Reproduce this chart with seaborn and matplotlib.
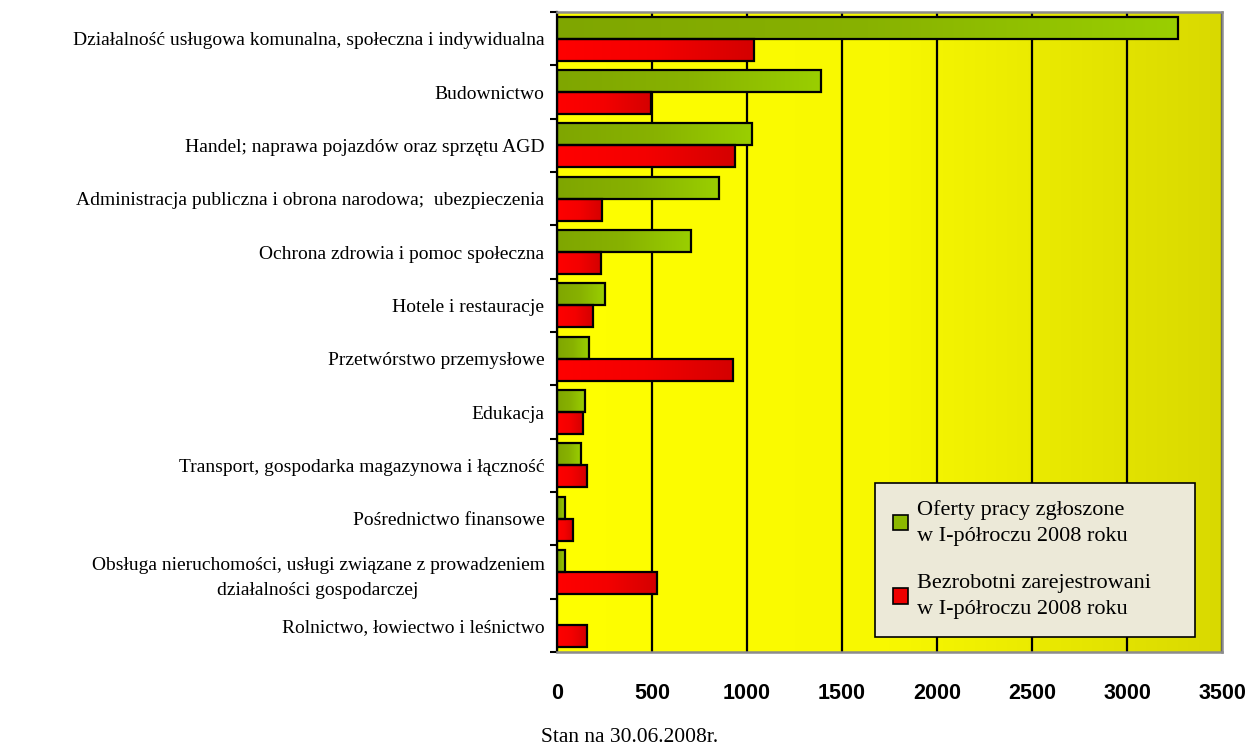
import numpy as np
import pandas as pd
import matplotlib
matplotlib.use("Agg")
import matplotlib.pyplot as plt
import seaborn as sns
from matplotlib.patches import Patch
from matplotlib.colors import LinearSegmentedColormap

categories = [
    "Działalność usługowa komunalna, społeczna i indywidualna",
    "Budownictwo",
    "Handel; naprawa pojazdów oraz sprzętu AGD",
    "Administracja publiczna i obrona narodowa;  ubezpieczenia",
    "Ochrona zdrowia i pomoc społeczna",
    "Hotele i restauracje",
    "Przetwórstwo przemysłowe",
    "Edukacja",
    "Transport, gospodarka magazynowa i łączność",
    "Pośrednictwo finansowe",
    "Obsługa nieruchomości, usługi związane z prowadzeniem\ndziałalności gospodarczej",
    "Rolnictwo, łowiectwo i leśnictwo",
]
oferty = [3270, 1390, 1025, 855, 703, 251, 167, 146, 125, 40, 40, 0]
bezrobotni = [1035, 497, 939, 239, 230, 188, 925, 135, 156, 82, 525, 156]
series_names = ["Oferty pracy zgłoszone\nw I-półroczu 2008 roku",
                "Bezrobotni zarejestrowani\nw I-półroczu 2008 roku"]
x_ticks = [0, 500, 1000, 1500, 2000, 2500, 3000, 3500]
footnote = "Stan na 30.06.2008r."

df = pd.DataFrame({
    "category": categories * 2,
    "series": [series_names[0]] * len(categories) + [series_names[1]] * len(categories),
    "value": oferty + bezrobotni,
})

sns.set_style("white")
plt.rcParams["font.family"] = ["Liberation Serif", "DejaVu Serif"]
plt.rcParams["text.color"] = "black"
plt.rcParams["xtick.color"] = "black"
plt.rcParams["ytick.color"] = "black"
plt.rcParams["axes.labelcolor"] = "black"

W, H = 1259, 749
fig = plt.figure(figsize=(W / 100, H / 100), dpi=100)
L, R, T, B = 557, 1222, 12, 652
ax = fig.add_axes([L / W, 1 - B / H, (R - L) / W, (B - T) / H])

green_mid = "#8CB800"
red_mid = "#EC0000"
sns.barplot(data=df, y="category", x="value", hue="series", orient="h",
            order=categories, hue_order=series_names,
            palette=[green_mid, red_mid], width=0.82, edgecolor="black",
            linewidth=1.6, legend=False, ax=ax, saturation=1)

n = len(categories)
ylim = (n - 0.5, -0.5)

# background gradient
bg_cmap = LinearSegmentedColormap.from_list("bg", ["#FFFF00", "#F8F800", "#D9D900"])
grad = np.linspace(0, 1, 256)[np.newaxis, :]
bg = ax.imshow(grad, extent=[0, 3500, ylim[0], ylim[1]], aspect="auto",
               cmap=bg_cmap, zorder=0)

g_cmap = LinearSegmentedColormap.from_list("g", ["#7FA600", "#88B200", "#9ACF00"])
r_cmap = LinearSegmentedColormap.from_list("r", ["#FF0000", "#F40000", "#D40000"])
for i, p in enumerate(list(ax.patches)):
    w = p.get_width()
    if w <= 0:
        p.set_visible(False)
        continue
    cm = g_cmap if i < n else r_cmap
    x0, y0, h = p.get_x(), p.get_y(), p.get_height()
    im = ax.imshow(grad, extent=[x0, x0 + w, y0 + h, y0], aspect="auto",
                   cmap=cm, zorder=2)
    im.set_clip_path(p)
    p.set_facecolor("none")
    p.set_zorder(3)

ax.set_xlim(0, 3500)
ax.set_ylim(*ylim)
ax.set_xticks(x_ticks)
ax.set_xticklabels([str(v) for v in x_ticks])
ax.grid(axis="x", color="black", linewidth=1.6)
ax.grid(axis="y", visible=False)
ax.set_axisbelow(True)
bg.set_zorder(0)

ax.set_xlabel("")
ax.set_ylabel("")

for lab in ax.get_xticklabels():
    lab.set_family(["Liberation Sans", "DejaVu Sans"])
    lab.set_fontweight("bold")
    lab.set_fontsize(15.5)
    lab.set_color("black")
ax.tick_params(axis="x", length=0, pad=22)

for lab in ax.get_yticklabels():
    lab.set_fontsize(14)
    lab.set_color("black")
    lab.set_multialignment("center")
    lab.set_linespacing(1.65)
ax.tick_params(axis="y", which="major", length=0, pad=9)
ax.set_yticks(np.arange(-0.5, n, 1.0), minor=True)
ax.tick_params(axis="y", which="minor", length=5, width=1.5, color="black",
               direction="out", left=True)

for s in ["top", "right", "bottom"]:
    ax.spines[s].set_color("#8C8C8C")
    ax.spines[s].set_linewidth(1.8)
ax.spines["left"].set_color("black")
ax.spines["left"].set_linewidth(1.6)

handles = [Patch(facecolor="#8CB800", edgecolor="black", linewidth=1.2),
           Patch(facecolor="#EE0000", edgecolor="black", linewidth=1.2)]
lx0, lx1, ly_bottom = 875, 1195, 637
leg = ax.legend(handles, series_names, loc="lower left", mode="expand",
                bbox_to_anchor=((lx0 - L) / (R - L), (B - ly_bottom) / (B - T),
                                (lx1 - lx0) / (R - L), 0.2),
                borderaxespad=0, frameon=True, fancybox=False,
                facecolor="#ECE9D8", edgecolor="black", framealpha=1,
                prop={"family": "Liberation Serif", "size": 16},
                handlelength=0.7, handleheight=0.7, handletextpad=0.4,
                labelspacing=1.25, borderpad=0.8)
leg.get_frame().set_linewidth(1.2)
leg.set_zorder(10)
for t in leg.get_texts():
    t.set_linespacing(1.5)
    t.set_color("black")

fig.text(630 / W, 1 - 738 / H, footnote, ha="center", va="center",
         fontsize=15.5, family="Liberation Serif", color="black")

fig.savefig("out.png", dpi=100)
